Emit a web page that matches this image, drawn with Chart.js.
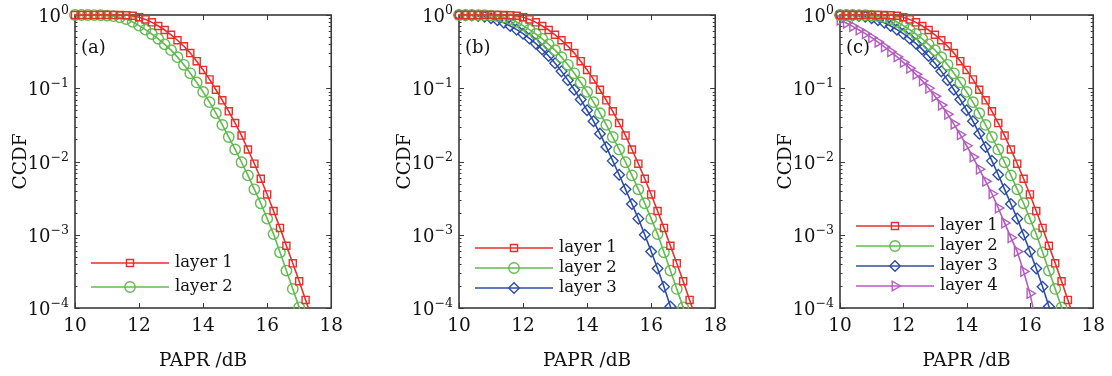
<!DOCTYPE html>
<html>
<head>
<meta charset="utf-8">
<title>CCDF of PAPR</title>
<script src="https://cdn.jsdelivr.net/npm/chart.js@4.4.1/dist/chart.umd.min.js"></script>
<style>
    html, body { margin: 0; padding: 0; background: #fff; }
    #wrap { position: relative; width: 1112px; height: 376px; overflow: hidden; }
    .panel { position: absolute; top: 0; }
</style>
</head>
<body>
<div id="wrap">
    <canvas id="chartA" class="panel" style="left:0px" width="350" height="376"></canvas>
    <canvas id="chartB" class="panel" style="left:384px" width="350" height="376"></canvas>
    <canvas id="chartC" class="panel" style="left:765px" width="347" height="376"></canvas>
</div>
<script>
// --- Data ---
const papr = [10.0, 10.2, 10.4, 10.6, 10.8, 11.0, 11.2, 11.4, 11.6, 11.8,
              12.0, 12.2, 12.4, 12.6, 12.8, 13.0, 13.2, 13.4, 13.6, 13.8,
              14.0, 14.2, 14.4, 14.6, 14.8, 15.0, 15.2, 15.4, 15.6, 15.8,
              16.0, 16.2, 16.4, 16.6, 16.8, 17.0, 17.2, 17.4];

const layer1 = [1, 1, 1, 1, 1, 1, 1, 0.998, 0.991, 0.977,
                0.933, 0.871, 0.794, 0.708, 0.624, 0.537, 0.452, 0.374, 0.302, 0.234,
                0.178, 0.132, 0.0955, 0.0684, 0.0484, 0.0335, 0.0226, 0.0146, 0.00933, 0.00582,
                0.00355, 0.00211, 0.00124, 0.000708, 0.000407, 0.000232, 0.000129, 0.0000708];

const layer2 = [1, 1, 1, 0.998, 0.993, 0.982, 0.964, 0.933, 0.881, 0.804,
                0.716, 0.631, 0.550, 0.473, 0.398, 0.331, 0.266, 0.209, 0.160, 0.120,
                0.0891, 0.0646, 0.0457, 0.0316, 0.0216, 0.0146, 0.00977, 0.00646, 0.00417, 0.00269,
                0.00166, 0.00102, 0.000575, 0.000324, 0.000182, 0.000102, 0.0000562];

const layer3 = [1, 0.995, 0.989, 0.973, 0.944, 0.902, 0.851, 0.785, 0.708, 0.631,
                0.556, 0.479, 0.407, 0.339, 0.275, 0.219, 0.170, 0.129, 0.0955, 0.070,
                0.0501, 0.0355, 0.024, 0.0158, 0.0102, 0.0066, 0.00417, 0.00263, 0.00166, 0.001,
                0.000589, 0.000347, 0.000195, 0.000105, 0.0000562];

const layer4 = [0.851, 0.776, 0.700, 0.624, 0.556, 0.490, 0.427, 0.367, 0.316, 0.269,
                0.226, 0.188, 0.155, 0.126, 0.100, 0.0776, 0.0589, 0.0442, 0.0324, 0.0232,
                0.0164, 0.0115, 0.00785, 0.00537, 0.00363, 0.00232, 0.00145, 0.000912, 0.000589, 0.000316,
                0.000158, 0.0000631];

const xTicks = [10, 12, 14, 16, 18];
const yTicks = [1, 0.1, 0.01, 0.001, 0.0001];
const seriesNames = ['layer 1', 'layer 2', 'layer 3', 'layer 4'];
const panelLabels = ['(a)', '(b)', '(c)'];

// --- Styles ---
const SERIF = "'DejaVu Serif', 'Liberation Serif', serif";
const TEXT = '#111111';
const AXIS = '#3a3a3a';
const layers = [layer1, layer2, layer3, layer4];
const colors = ['#e5302b', '#62ba50', '#2c4ea6', '#b45cc0'];
const markers = [
    { style: 'rect', radius: 5, rotation: 0 },
    { style: 'circle', radius: 5.2, rotation: 0 },
    { style: 'rectRot', radius: 5.3, rotation: 0 },
    { style: 'triangle', radius: 5.6, rotation: 90 }
];

Chart.defaults.font.family = SERIF;
Chart.defaults.color = TEXT;

// --- Box, inner ticks, 10^n labels, legend and panel letter ---
const framePlugin = {
    id: 'frame',
    beforeDatasetsDraw(chart) {
        const ctx = chart.ctx;
        const a = chart.chartArea;
        const xs = chart.scales.x, ys = chart.scales.y;
        ctx.save();
        ctx.strokeStyle = AXIS;
        ctx.lineWidth = 1.6;
        ctx.strokeRect(a.left, a.top, a.right - a.left, a.bottom - a.top);

        ctx.lineWidth = 1;
        ctx.beginPath();
        for (const v of xTicks) {
            const px = Math.round(xs.getPixelForValue(v)) + 0.5;
            ctx.moveTo(px, a.bottom); ctx.lineTo(px, a.bottom - 5);
            ctx.moveTo(px, a.top); ctx.lineTo(px, a.top + 5);
        }
        for (let k = -4; k <= 0; k++) {
            for (let m = 1; m <= 9; m++) {
                const v = m * Math.pow(10, k);
                if (v > 1.0001) continue;
                const py = Math.round(ys.getPixelForValue(v)) + 0.5;
                const len = (m === 1) ? 5 : 2.5;
                ctx.moveTo(a.left, py); ctx.lineTo(a.left + len, py);
                ctx.moveTo(a.right, py); ctx.lineTo(a.right - len, py);
            }
        }
        ctx.stroke();

        // y tick labels: "10" with a raised exponent
        ctx.fillStyle = TEXT;
        ctx.textBaseline = 'alphabetic';
        for (const v of yTicks) {
            const py = ys.getPixelForValue(v);
            const exp = String(Math.round(Math.log10(v))).replace('-', '\u2212');
            ctx.font = '12.5px ' + SERIF;
            const ew = ctx.measureText(exp).width;
            const right = a.left - 6;
            ctx.textAlign = 'left';
            ctx.fillText(exp, right - ew, py - 1);
            ctx.font = '18px ' + SERIF;
            ctx.textAlign = 'right';
            ctx.fillText('10', right - ew, py + 7);
        }
        ctx.restore();
    },
    afterDatasetsDraw(chart, args, opts) {
        const ctx = chart.ctx;
        const a = chart.chartArea;
        ctx.save();

        // panel letter
        ctx.fillStyle = TEXT;
        ctx.font = '18px ' + SERIF;
        ctx.textAlign = 'left';
        ctx.textBaseline = 'middle';
        ctx.fillText(opts.label, a.left + 6, 48);

        // legend: line with marker in the middle, then the name
        const n = chart.data.datasets.length;
        chart.data.datasets.forEach((ds, i) => {
            const y = opts.legendBottom - (n - 1 - i) * opts.legendGap;
            const x1 = a.left + 16, x2 = a.left + 94;
            ctx.strokeStyle = ds.borderColor;
            ctx.lineWidth = ds.borderWidth;
            ctx.beginPath();
            ctx.moveTo(x1, y); ctx.lineTo(x2, y);
            ctx.stroke();
            if (Chart.helpers && Chart.helpers.drawPoint) {
                ctx.fillStyle = 'rgba(255,255,255,0)';
                ctx.lineWidth = ds.pointBorderWidth;
                Chart.helpers.drawPoint(ctx, {
                    pointStyle: ds.pointStyle,
                    rotation: ds.pointRotation,
                    radius: ds.pointRadius,
                    borderWidth: ds.pointBorderWidth
                }, (x1 + x2) / 2, y);
            }
            ctx.fillStyle = TEXT;
            ctx.font = '16.5px ' + SERIF;
            ctx.textAlign = 'left';
            ctx.textBaseline = 'middle';
            ctx.fillText(ds.label, a.left + 100, y);
        });
        ctx.restore();
    }
};

// --- One panel ---
function buildPanel(canvasId, layerCount, label, legendBottom, legendGap, rightPad) {
    const datasets = [];
    for (let i = 0; i < layerCount; i++) {
        datasets.push({
            label: seriesNames[i],
            data: layers[i].map((v, k) => ({ x: papr[k], y: v })),
            borderColor: colors[i],
            borderWidth: 1.6,
            pointStyle: markers[i].style,
            pointRotation: markers[i].rotation,
            pointRadius: markers[i].radius,
            pointHoverRadius: markers[i].radius,
            pointBorderWidth: 1.4,
            pointBorderColor: colors[i],
            pointBackgroundColor: 'rgba(255,255,255,0)',
            tension: 0,
            clip: { left: 8, top: 8, right: 8, bottom: 1 }
        });
    }

    return new Chart(document.getElementById(canvasId), {
        type: 'line',
        data: { datasets: datasets },
        options: {
            responsive: false,
            animation: false,
            events: [],
            layout: { padding: { top: 15, right: rightPad, bottom: 0, left: 0 } },
            plugins: {
                legend: { display: false },
                tooltip: { enabled: false },
                frame: { label: label, legendBottom: legendBottom, legendGap: legendGap }
            },
            scales: {
                x: {
                    type: 'linear',
                    min: 10,
                    max: 18,
                    afterBuildTicks: s => { s.ticks = xTicks.map(v => ({ value: v })); },
                    afterFit: s => { s.height = 68; },
                    grid: { display: false, drawTicks: false },
                    border: { display: false },
                    ticks: { font: { size: 18.5 }, color: TEXT, padding: 7, maxRotation: 0 },
                    title: {
                        display: true, text: 'PAPR /dB', color: TEXT,
                        font: { size: 18.5 }, padding: { top: 0, bottom: 4 }
                    }
                },
                y: {
                    type: 'logarithmic',
                    min: 0.0001,
                    max: 1,
                    afterBuildTicks: s => { s.ticks = yTicks.map(v => ({ value: v })); },
                    afterFit: s => { s.width = 75; },
                    grid: { display: false, drawTicks: false },
                    border: { display: false },
                    ticks: { display: false },
                    title: {
                        display: true, text: 'CCDF', color: TEXT,
                        font: { size: 18.5 }, padding: { top: 10, bottom: 0 }
                    }
                }
            }
        },
        plugins: [framePlugin]
    });
}

buildPanel('chartA', 2, panelLabels[0], 287, 24, 15);
buildPanel('chartB', 3, panelLabels[1], 288, 20, 15);
buildPanel('chartC', 4, panelLabels[2], 286, 20, 11);
</script>
</body>
</html>
